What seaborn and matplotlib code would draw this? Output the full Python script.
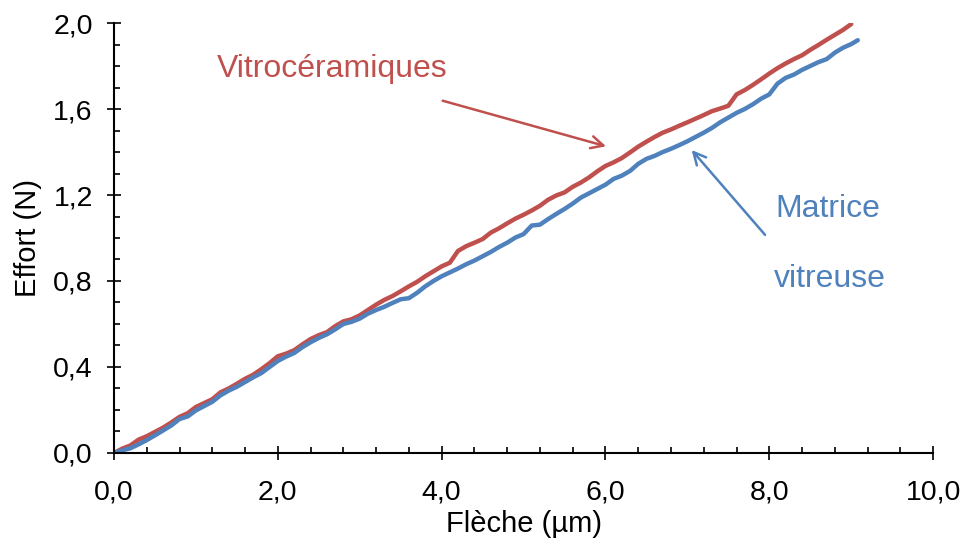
import pandas as pd
import seaborn as sns
import matplotlib.pyplot as plt
from matplotlib.ticker import MultipleLocator, FuncFormatter

# valeurs (fleche en um, effort en N)
fleche_vitro = [
    0.0, 0.1, 0.2, 0.3, 0.4, 0.5, 0.6, 0.7, 0.8, 0.9,
    1.0, 1.1, 1.2, 1.3, 1.4, 1.5, 1.6, 1.7, 1.8, 1.9,
    2.0, 2.1, 2.2, 2.3, 2.4, 2.5, 2.6, 2.7, 2.8, 2.9,
    3.0, 3.1, 3.2, 3.3, 3.4, 3.5, 3.6, 3.7, 3.8, 3.9,
    4.0, 4.1, 4.2, 4.3, 4.4, 4.5, 4.6, 4.7, 4.8, 4.9,
    5.0, 5.1, 5.2, 5.3, 5.4, 5.5, 5.6, 5.7, 5.8, 5.9,
    6.0, 6.1, 6.2, 6.3, 6.4, 6.5, 6.6, 6.7, 6.8, 6.9,
    7.0, 7.1, 7.2, 7.3, 7.4, 7.5, 7.6, 7.7, 7.8, 7.9,
    8.0, 8.1, 8.2, 8.3, 8.4, 8.5, 8.6, 8.7, 8.8, 8.9,
    9.0,
]
effort_vitro = [
    0.000, 0.020, 0.035, 0.062, 0.078, 0.098, 0.118, 0.142, 0.168, 0.185,
    0.214, 0.232, 0.250, 0.282, 0.300, 0.322, 0.345, 0.364, 0.390, 0.418,
    0.450, 0.462, 0.478, 0.505, 0.530, 0.548, 0.562, 0.590, 0.612, 0.622,
    0.640, 0.665, 0.690, 0.712, 0.730, 0.752, 0.775, 0.796, 0.822, 0.845,
    0.868, 0.885, 0.940, 0.962, 0.978, 0.995, 1.025, 1.045, 1.068, 1.090,
    1.108, 1.128, 1.150, 1.178, 1.198, 1.212, 1.238, 1.258, 1.282, 1.310,
    1.335, 1.352, 1.372, 1.398, 1.425, 1.448, 1.470, 1.490, 1.505, 1.522,
    1.538, 1.555, 1.572, 1.590, 1.602, 1.615, 1.668, 1.688, 1.712, 1.738,
    1.765, 1.790, 1.812, 1.832, 1.850, 1.875, 1.898, 1.922, 1.945, 1.968,
    1.995,
]

fleche_matrice = [
    0.0, 0.1, 0.2, 0.3, 0.4, 0.5, 0.6, 0.7, 0.8, 0.9,
    1.0, 1.1, 1.2, 1.3, 1.4, 1.5, 1.6, 1.7, 1.8, 1.9,
    2.0, 2.1, 2.2, 2.3, 2.4, 2.5, 2.6, 2.7, 2.8, 2.9,
    3.0, 3.1, 3.2, 3.3, 3.4, 3.5, 3.6, 3.7, 3.8, 3.9,
    4.0, 4.1, 4.2, 4.3, 4.4, 4.5, 4.6, 4.7, 4.8, 4.9,
    5.0, 5.1, 5.2, 5.3, 5.4, 5.5, 5.6, 5.7, 5.8, 5.9,
    6.0, 6.1, 6.2, 6.3, 6.4, 6.5, 6.6, 6.7, 6.8, 6.9,
    7.0, 7.1, 7.2, 7.3, 7.4, 7.5, 7.6, 7.7, 7.8, 7.9,
    8.0, 8.1, 8.2, 8.3, 8.4, 8.5, 8.6, 8.7, 8.8, 8.9,
    9.0, 9.08,
]
effort_matrice = [
    0.000, 0.012, 0.022, 0.040, 0.060, 0.082, 0.105, 0.128, 0.158, 0.170,
    0.198, 0.218, 0.238, 0.268, 0.290, 0.308, 0.330, 0.352, 0.372, 0.400,
    0.428, 0.448, 0.465, 0.492, 0.515, 0.535, 0.552, 0.575, 0.600, 0.610,
    0.625, 0.648, 0.665, 0.680, 0.698, 0.715, 0.720, 0.745, 0.775, 0.800,
    0.822, 0.840, 0.858, 0.878, 0.895, 0.915, 0.935, 0.958, 0.978, 1.002,
    1.018, 1.058, 1.062, 1.088, 1.112, 1.135, 1.160, 1.188, 1.208, 1.228,
    1.248, 1.275, 1.290, 1.312, 1.345, 1.368, 1.382, 1.400, 1.415, 1.432,
    1.450, 1.470, 1.490, 1.512, 1.538, 1.560, 1.582, 1.600, 1.622, 1.648,
    1.668, 1.718, 1.745, 1.760, 1.782, 1.800, 1.818, 1.832, 1.862, 1.885,
    1.902, 1.920,
]

rouge = '#C0504D'
bleu = '#4F81BD'

df = pd.concat([
    pd.DataFrame({'fleche': fleche_vitro, 'effort': effort_vitro, 'serie': 'Vitrocéramiques'}),
    pd.DataFrame({'fleche': fleche_matrice, 'effort': effort_matrice, 'serie': 'Matrice vitreuse'}),
])

sns.set_style('ticks')
plt.rcParams['font.family'] = ['Liberation Sans', 'DejaVu Sans']

fig = plt.figure(figsize=(9.61, 5.44), dpi=100)
ax = fig.add_axes([0.1186, 0.1673, 0.8524, 0.7904])

sns.lineplot(data=df, x='fleche', y='effort', hue='serie',
             palette={'Vitrocéramiques': rouge, 'Matrice vitreuse': bleu},
             hue_order=['Vitrocéramiques', 'Matrice vitreuse'],
             sort=False, estimator=None, linewidth=3.2, legend=False, ax=ax)

ax.set_xlim(0, 10)
ax.set_ylim(0, 2)
ax.xaxis.set_major_locator(MultipleLocator(2))
ax.xaxis.set_minor_locator(MultipleLocator(0.4))
ax.yaxis.set_major_locator(MultipleLocator(0.4))
ax.yaxis.set_minor_locator(MultipleLocator(0.1))
virgule = FuncFormatter(lambda v, p: f'{v:.1f}'.replace('.', ','))
ax.xaxis.set_major_formatter(virgule)
ax.yaxis.set_major_formatter(virgule)

for s in ['top', 'right']:
    ax.spines[s].set_visible(False)
for s in ['left', 'bottom']:
    ax.spines[s].set_linewidth(1.5)
    ax.spines[s].set_color('black')

ax.tick_params(which='major', direction='inout', length=10.5, width=1.2,
               labelsize=20.5, colors='black')
ax.tick_params(axis='y', which='major', pad=10)
ax.tick_params(axis='x', which='major', pad=14)
ax.tick_params(which='minor', direction='in', length=4.5, width=1.2, colors='black')

ax.set_xlabel('Flèche (µm)', fontsize=21, labelpad=3, color='black')
ax.set_ylabel('Effort (N)', fontsize=21, labelpad=8, color='black')

ax.annotate('', xy=(6.04, 1.423), xytext=(3.98, 1.642),
            arrowprops=dict(arrowstyle='->', color=rouge, lw=1.8, mutation_scale=22))
ax.text(1.258, 1.749, 'Vitrocéramiques', color=rouge, fontsize=23,
        ha='left', va='baseline')

ax.annotate('', xy=(7.03, 1.419), xytext=(7.97, 1.005),
            arrowprops=dict(arrowstyle='->', color=bleu, lw=1.8, mutation_scale=22))
ax.text(8.07, 1.098, 'Matrice', color=bleu, fontsize=23, ha='left', va='baseline')
ax.text(8.05, 0.772, 'vitreuse', color=bleu, fontsize=23, ha='left', va='baseline')

fig.savefig('out.png', dpi=100)
